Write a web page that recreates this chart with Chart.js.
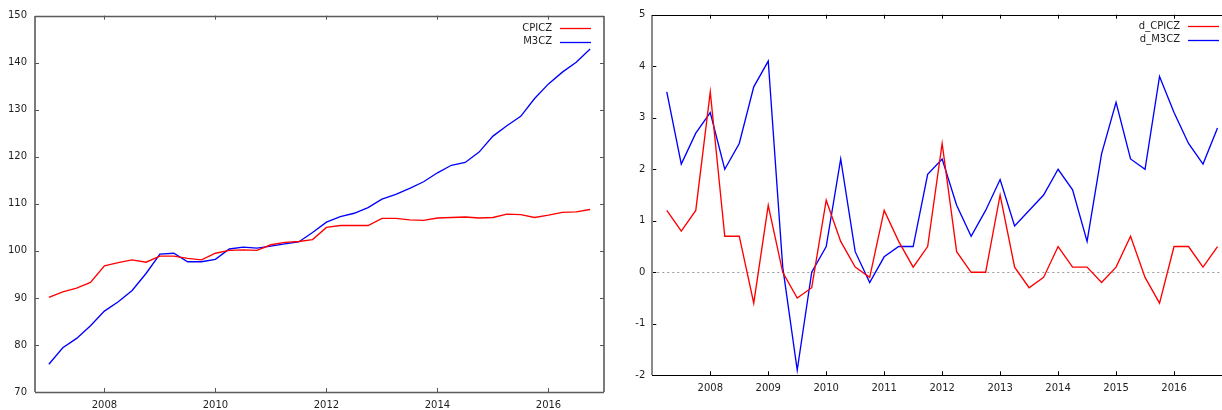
<!DOCTYPE html>
<html>
<head>
<meta charset="utf-8">
<script src="https://cdn.jsdelivr.net/npm/chart.js@4/dist/chart.umd.min.js"></script>
<style>
  html, body { margin: 0; padding: 0; background: #fff; width: 1222px; height: 410px; overflow: hidden; }
  canvas { position: absolute; top: 0; }
  #levels { left: 0; }
  #diffs  { left: 600px; }
</style>
</head>
<body>
<canvas id="levels" width="620" height="410"></canvas>
<canvas id="diffs" width="640" height="410"></canvas>
<script>
/* Czech CPI and M3: levels (left) and first differences (right) */

// ── Data ──────────────────────────────────────────────────────────────────────
const LEVEL_DATES = [
  "2007Q1","2007Q2","2007Q3","2007Q4","2008Q1","2008Q2","2008Q3","2008Q4",
  "2009Q1","2009Q2","2009Q3","2009Q4","2010Q1","2010Q2","2010Q3","2010Q4",
  "2011Q1","2011Q2","2011Q3","2011Q4","2012Q1","2012Q2","2012Q3","2012Q4",
  "2013Q1","2013Q2","2013Q3","2013Q4","2014Q1","2014Q2","2014Q3","2014Q4",
  "2015Q1","2015Q2","2015Q3","2015Q4","2016Q1","2016Q2","2016Q3","2016Q4",
];
const DIFF_DATES = LEVEL_DATES.slice(1);

const CPICZ = [
  90.1, 91.3, 92.1, 93.3,  96.8, 97.5, 98.1, 97.6,  98.9, 98.9, 98.4, 98.1,
  99.5, 100.1, 100.2, 100.1,  101.3, 101.8, 102.0, 102.4,  105.0, 105.4, 105.4, 105.4,
  106.9, 106.9, 106.6, 106.5,  107.0, 107.1, 107.2, 107.0,  107.1, 107.8, 107.7, 107.1,
  107.6, 108.2, 108.3, 108.8,
];
const M3CZ = [
  75.9, 79.4, 81.4, 84.1,  87.2, 89.2, 91.6, 95.2,  99.3, 99.5, 97.7, 97.7,
  98.2, 100.4, 100.8, 100.6,  101.0, 101.5, 101.9, 103.9,  106.1, 107.3, 108.0, 109.2,
  111.0, 112.0, 113.3, 114.7,  116.6, 118.2, 118.8, 121.0,  124.4, 126.6, 128.6, 132.4,
  135.5, 138.0, 140.1, 142.9,
];
const D_CPICZ = [
  1.2, 0.8, 1.2,  3.5, 0.7, 0.7, -0.6,  1.3, 0.0, -0.5, -0.3,  1.4, 0.6, 0.1, -0.1,
  1.2, 0.6, 0.1, 0.5,  2.5, 0.4, 0.0, 0.0,  1.5, 0.1, -0.3, -0.1,  0.5, 0.1, 0.1, -0.2,
  0.1, 0.7, -0.1, -0.6,  0.5, 0.5, 0.1, 0.5,
];
const D_M3CZ = [
  3.5, 2.1, 2.7,  3.1, 2.0, 2.5, 3.6,  4.1, 0.1, -1.9, 0.0,  0.5, 2.2, 0.4, -0.2,
  0.3, 0.5, 0.5, 1.9,  2.2, 1.3, 0.7, 1.2,  1.8, 0.9, 1.2, 1.5,  2.0, 1.6, 0.6, 2.3,
  3.3, 2.2, 2.0, 3.8,  3.1, 2.5, 2.1, 2.8,
];

const LEVEL_X_TICKS = [2008, 2010, 2012, 2014, 2016];
const LEVEL_Y_TICKS = [70, 80, 90, 100, 110, 120, 130, 140, 150];
const DIFF_X_TICKS  = [2008, 2009, 2010, 2011, 2012, 2013, 2014, 2015, 2016];
const DIFF_Y_TICKS  = [-2, -1, 0, 1, 2, 3, 4, 5];

// "2009Q3" -> 2009.5
const toYear = q => +q.slice(0, 4) + (+q.slice(5) - 1) / 4;
const pts = (dates, vals) => dates.map((d, i) => ({ x: toYear(d), y: vals[i] }));

Chart.defaults.font.family = "'DejaVu Sans', sans-serif";
Chart.defaults.font.size = 10;
Chart.defaults.color = "#1e1e1e";

// ── Gnuplot-like frame: inward ticks, border, zero line, legend ───────────────
const frame = {
  id: "frame",
  beforeDatasetsDraw(chart, args, o) {
    if (!o.zero) return;
    const { ctx, chartArea: a, scales: { y } } = chart;
    const py = Math.round(y.getPixelForValue(0)) + 0.5;
    ctx.save();
    ctx.strokeStyle = "#999";
    ctx.lineWidth = 1;
    ctx.setLineDash([2, 3]);
    ctx.beginPath(); ctx.moveTo(a.left, py); ctx.lineTo(a.right, py); ctx.stroke();
    ctx.restore();
  },
  afterDatasetsDraw(chart, args, o) {
    const { ctx, chartArea: a, scales: { x, y } } = chart;
    ctx.save();
    ctx.lineWidth = 1;
    ctx.strokeStyle = o.tickColor;
    ctx.beginPath();
    x.ticks.forEach(t => {
      const px = Math.round(x.getPixelForValue(t.value)) + 0.5;
      ctx.moveTo(px, a.bottom); ctx.lineTo(px, a.bottom - 4);
      ctx.moveTo(px, a.top);    ctx.lineTo(px, a.top + 4);
    });
    y.ticks.forEach(t => {
      const py = Math.round(y.getPixelForValue(t.value)) + 0.5;
      ctx.moveTo(a.left, py);  ctx.lineTo(a.left + 4, py);
      ctx.moveTo(a.right, py); ctx.lineTo(a.right - 4, py);
    });
    ctx.stroke();

    const side = (s, x1, y1, x2, y2) => {
      ctx.strokeStyle = s.color; ctx.lineWidth = s.width;
      ctx.beginPath(); ctx.moveTo(x1, y1); ctx.lineTo(x2, y2); ctx.stroke();
    };
    const L = Math.round(a.left), R = Math.round(a.right), T = Math.round(a.top), B = Math.round(a.bottom);
    side(o.border.left,   L, T, L, B);
    side(o.border.right,  R, T, R, B);
    side(o.border.top,    L, T + 0.5, R, T + 0.5);
    side(o.border.bottom, L, B + 0.5, R, B + 0.5);

    // legend: label, then line sample, top right
    ctx.textAlign = "right";
    ctx.textBaseline = "middle";
    ctx.font = "10px 'DejaVu Sans', sans-serif";
    chart.data.datasets.forEach((ds, i) => {
      const ly = a.top + o.legendTop + i * 13.5;
      ctx.fillStyle = "#1e1e1e";
      ctx.fillText(ds.label, a.right - 52, ly);
      ctx.strokeStyle = ds.borderColor; ctx.lineWidth = 1.3;
      ctx.beginPath(); ctx.moveTo(a.right - 44, Math.round(ly) + 0.5); ctx.lineTo(a.right - 13, Math.round(ly) + 0.5); ctx.stroke();
    });
    ctx.restore();
  },
};

function lineSet(label, data, color) {
  return { label, data, borderColor: color, borderWidth: 1.35, pointRadius: 0, tension: 0, fill: false };
}

function axis(min, max, tickList, pad, fit) {
  return {
    type: "linear", min, max,
    afterBuildTicks: s => { s.ticks = tickList.map(v => ({ value: v })); },
    afterFit: fit,
    grid: { display: false, drawTicks: false },
    border: { display: false },
    ticks: { callback: v => String(v), autoSkip: false, maxRotation: 0, padding: pad },
  };
}

// ── Left: levels ──────────────────────────────────────────────────────────────
new Chart(document.getElementById("levels"), {
  type: "line",
  data: {
    datasets: [
      lineSet("CPICZ", pts(LEVEL_DATES, CPICZ), "#ff0000"),
      lineSet("M3CZ",  pts(LEVEL_DATES, M3CZ),  "#0000ff"),
    ],
  },
  options: {
    responsive: false, animation: false,
    layout: { padding: { top: 15.7, right: 16, bottom: 0, left: 0 } },
    plugins: {
      legend: { display: false }, tooltip: { enabled: false },
      frame: {
        tickColor: "#555", legendTop: 12.5,
        border: {
          left: { color: "#5a5a5a", width: 1.6 }, right: { color: "#5a5a5a", width: 1.6 },
          top: { color: "#5a5a5a", width: 1.6 }, bottom: { color: "#5a5a5a", width: 1.6 },
        },
      },
    },
    scales: {
      x: axis(2006.75, 2017, LEVEL_X_TICKS, 7, s => { s.height = 18; }),
      y: axis(70, 150, LEVEL_Y_TICKS, 8, s => { s.width = 35; }),
    },
  },
  plugins: [frame],
});

// ── Right: first differences ──────────────────────────────────────────────────
new Chart(document.getElementById("diffs"), {
  type: "line",
  data: {
    datasets: [
      lineSet("d_CPICZ", pts(DIFF_DATES, D_CPICZ), "#ff0000"),
      lineSet("d_M3CZ",  pts(DIFF_DATES, D_M3CZ),  "#0000ff"),
    ],
  },
  options: {
    responsive: false, animation: false,
    layout: { padding: { top: 14.7, right: 8, bottom: 0, left: 0 } },
    plugins: {
      legend: { display: false }, tooltip: { enabled: false },
      frame: {
        tickColor: "#000", legendTop: 11.5, zero: true,
        border: {
          left: { color: "#8a8a8a", width: 2 }, right: { color: "#000", width: 1 },
          top: { color: "#000", width: 1 }, bottom: { color: "#000", width: 1 },
        },
      },
    },
    scales: {
      x: axis(2007, 2017, DIFF_X_TICKS, 7, s => { s.height = 34.7; }),
      y: axis(-2, 5, DIFF_Y_TICKS, 7, s => { s.width = 52.3; }),
    },
  },
  plugins: [frame],
});
</script>
</body>
</html>
